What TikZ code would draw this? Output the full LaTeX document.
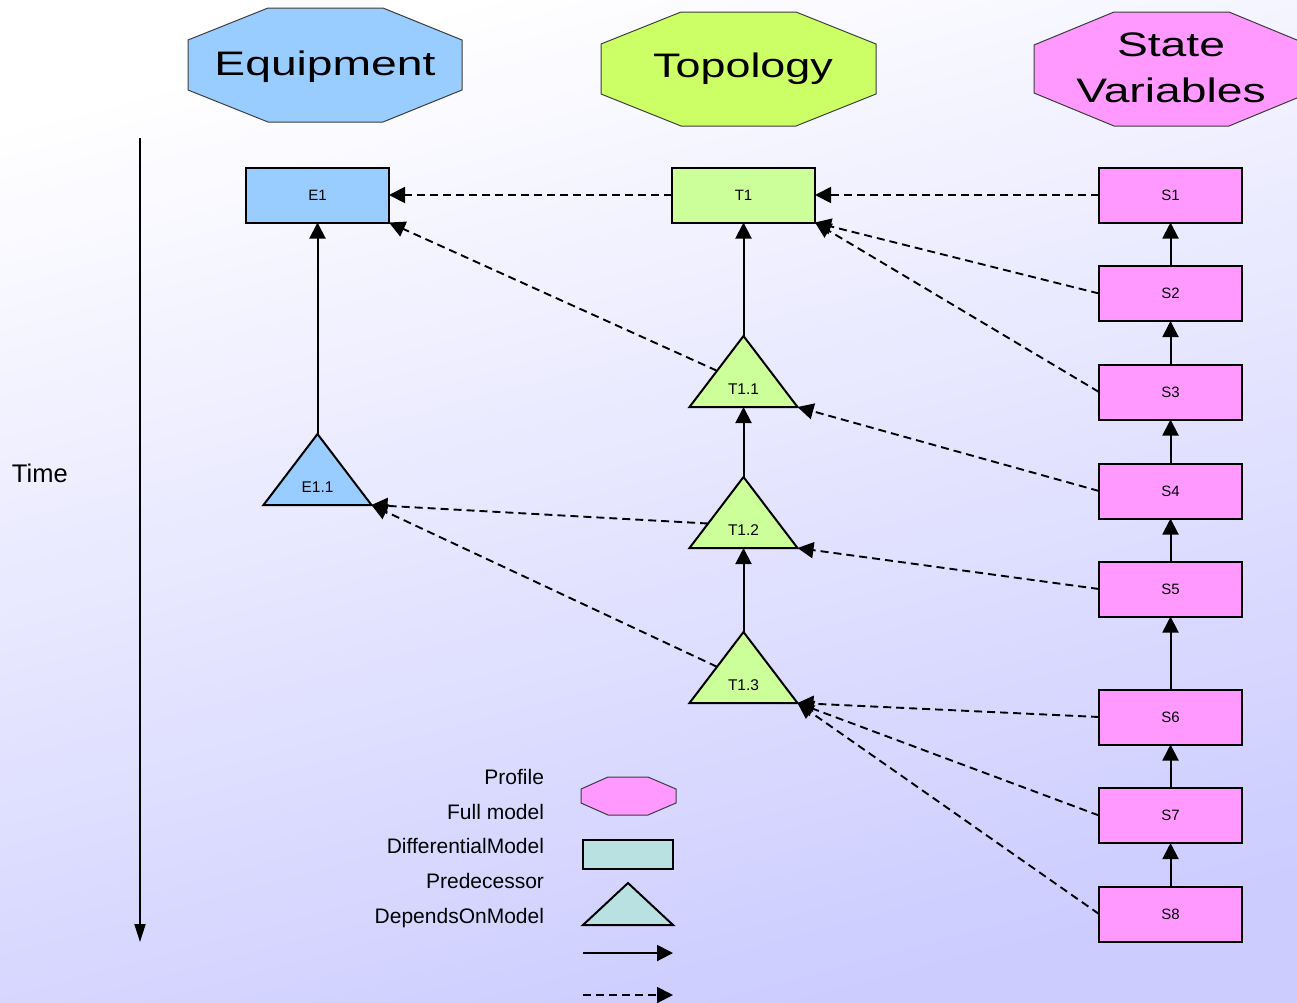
\documentclass[tikz,border=0pt]{standalone}
\usepackage{fontspec}
\setmainfont{Liberation Sans}
\usepackage{graphicx}
\usetikzlibrary{arrows.meta,calc}

\definecolor{eqblue}{RGB}{153,204,255}
\definecolor{topohead}{RGB}{204,255,102}
\definecolor{topolight}{RGB}{204,255,153}
\definecolor{svpink}{RGB}{255,153,255}
\definecolor{legteal}{RGB}{186,225,225}
\definecolor{hdrline}{RGB}{60,60,60}
\definecolor{bglav}{RGB}{204,204,255}

% wide header lettering
\newcommand\widetext[1]{\scalebox{1.36}[1]{#1}}

\tikzset{
  pics/tri/.style 2 args={code={
    \coordinate (-b) at (0,0);
    \coordinate (-apex) at (0,-71);
    \coordinate (-l) at (-54,0);
    \coordinate (-r) at (54,0);
    \filldraw[fill=#2, draw=black, line width=2pt, line join=miter]
      (-apex) -- (-l) -- (-r) -- cycle;
    \node[font=\fontsize{15.5}{18}\selectfont] (-txt) at (0,-18) {#1};
  }},
}

\begin{document}
\begin{tikzpicture}[x=1pt,y=-1pt,
  every node/.style={inner sep=0pt, outer sep=0pt},
  hdrshape/.style={draw=hdrline, line width=1pt, line join=miter},
  hdrtext/.style={font=\fontsize{34}{40}\selectfont, anchor=base},
  modelbox/.style={draw=black, line width=2pt, minimum width=143pt,
    minimum height=55pt, font=\fontsize{15}{18}\selectfont},
  solidarr/.style={line width=2pt, -{Triangle[length=16pt,width=16pt]}},
  dasharr/.style={line width=1.9pt, dash pattern=on 8pt off 5pt,
    -{Triangle[length=16pt,width=16pt]}},
  timearr/.style={line width=1.8pt, -{Triangle[length=18pt,width=11pt]}},
  leglabel/.style={font=\fontsize{21}{25}\selectfont, anchor=base east},
]

% background
\useasboundingbox (0,0) rectangle (1297,1002);
\shade[top color=white, bottom color=bglav, shading angle=15]
  (0,0) rectangle (1297,1002);

% column headers
\draw[hdrshape, fill=eqblue] (188,40) -- ++(80,-32) -- ++(115,0) -- ++(79,32)
  -- ++(0,50) -- ++(-79,32) -- ++(-115,0) -- ++(-80,-32) -- cycle;
\node[hdrtext] (hEq) at (325,75) {\widetext{Equipment}};

\draw[hdrshape, fill=topohead] (601,44) -- ++(80,-32) -- ++(115,0) -- ++(80,32)
  -- ++(0,50) -- ++(-80,32) -- ++(-115,0) -- ++(-80,-32) -- cycle;
\node[hdrtext] (hTo) at (743,77) {\scalebox{1.32}[1]{Topology}};

\draw[hdrshape, fill=svpink] (1034,45) -- ++(80,-33) -- ++(115,0) -- ++(80,33)
  -- ++(0,48) -- ++(-80,33) -- ++(-115,0) -- ++(-80,-33) -- cycle;
\node[hdrtext] (hSv1) at (1171,56) {\widetext{State}};
\node[hdrtext] (hSv2) at (1171,102) {\widetext{Variables}};

% time axis
\coordinate (tTop) at (140,138);
\coordinate (tBot) at (140,942);
\draw[timearr] (tTop) -- (tBot);
\node[font=\fontsize{25.5}{30}\selectfont, anchor=base west] (time) at (12,482) {Time};

% full models
\node[modelbox, fill=eqblue] (e1) at (317.5,195) {E1};
\node[modelbox, fill=topolight] (t1) at (743.5,195) {T1};
\node[modelbox, fill=svpink] (s1) at (1170.5,195) {S1};
\node[modelbox, fill=svpink] (s2) at (1170.5,293.5) {S2};
\node[modelbox, fill=svpink] (s3) at (1170.5,392) {S3};
\node[modelbox, fill=svpink] (s4) at (1170.5,491) {S4};
\node[modelbox, fill=svpink] (s5) at (1170.5,589) {S5};
\node[modelbox, fill=svpink] (s6) at (1170.5,717) {S6};
\node[modelbox, fill=svpink] (s7) at (1170.5,815.5) {S7};
\node[modelbox, fill=svpink] (s8) at (1170.5,914) {S8};

% differential models
\pic (e11) at (317.5,505) {tri={E1.1}{eqblue}};
\pic (t11) at (743.5,407) {tri={T1.1}{topolight}};
\pic (t12) at (743.5,548) {tri={T1.2}{topolight}};
\pic (t13) at (743.5,703) {tri={T1.3}{topolight}};

% predecessor chains
\draw[solidarr] (e11-apex) -- (e1.south);
\draw[solidarr] (t11-apex) -- (t1.south);
\draw[solidarr] (t12-apex) -- (t11-b);
\draw[solidarr] (t13-apex) -- (t12-b);
\draw[solidarr] (s2.north) -- (s1.south);
\draw[solidarr] (s3.north) -- (s2.south);
\draw[solidarr] (s4.north) -- (s3.south);
\draw[solidarr] (s5.north) -- (s4.south);
\draw[solidarr] (s6.north) -- (s5.south);
\draw[solidarr] (s7.north) -- (s6.south);
\draw[solidarr] (s8.north) -- (s7.south);

% model dependencies
\draw[dasharr] (t1.west) -- (e1.east);
\draw[dasharr] (s1.west) -- (t1.east);
\draw[dasharr] (s2.west) -- (t1.south east);
\draw[dasharr] (s3.west) -- (t1.south east);
\draw[dasharr] ($(t11-apex)!0.49!(t11-l)$) -- (e1.south east);
\draw[dasharr] (s4.west) -- (t11-r);
\draw[dasharr] ($(t12-apex)!0.655!(t12-l)$) -- (e11-r);
\draw[dasharr] (s5.west) -- (t12-r);
\draw[dasharr] ($(t13-apex)!0.49!(t13-l)$) -- (e11-r);
\draw[dasharr] (s6.west) -- (t13-r);
\draw[dasharr] (s7.west) -- (t13-r);
\draw[dasharr] (s8.west) -- (t13-r);

% legend
\node[leglabel] (lgProfile) at (544,784) {Profile};
\node[leglabel] (lgFull) at (544,819) {Full model};
\node[leglabel] (lgDiff) at (544,853) {DifferentialModel};
\node[leglabel] (lgPred) at (544,888) {Predecessor};
\node[leglabel] (lgDep) at (544,923) {DependsOnModel};

\draw[hdrshape, fill=svpink] (581,789) -- ++(27,-12) -- ++(40,0) -- ++(28,12)
  -- ++(0,14) -- ++(-28,12) -- ++(-40,0) -- ++(-27,-12) -- cycle;
\node[draw=black, line width=2pt, fill=legteal, minimum width=90pt,
  minimum height=29pt] (lgBox) at (628,854) {};
\filldraw[fill=legteal, draw=black, line width=2pt, line join=miter]
  (628,883) -- (583,925) -- (673,925) -- cycle;
\coordinate (lgS1) at (583,953);
\coordinate (lgS2) at (673,953);
\draw[solidarr] (lgS1) -- (lgS2);
\coordinate (lgD1) at (583,995);
\coordinate (lgD2) at (673,995);
\draw[dasharr] (lgD1) -- (lgD2);
\end{tikzpicture}
\end{document}
